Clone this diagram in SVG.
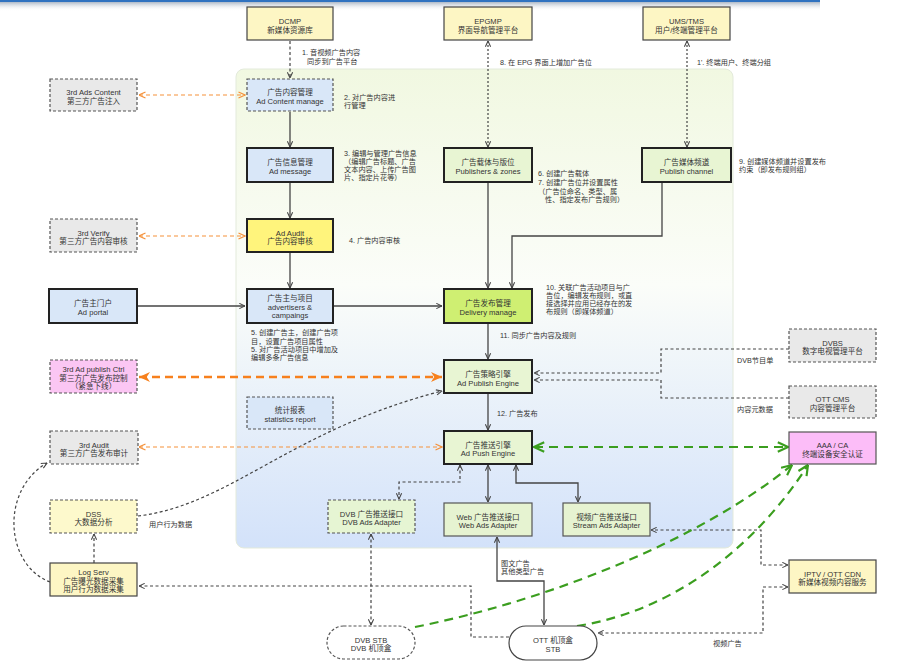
<svg xmlns="http://www.w3.org/2000/svg" width="913" height="666" viewBox="0 0 913 666">
<defs>
<linearGradient id="panelG" x1="0" y1="0" x2="0" y2="1">
<stop offset="0" stop-color="#f1f8e1"/>
<stop offset="0.45" stop-color="#fbfdf9"/>
<stop offset="1" stop-color="#d3e2fa"/>
</linearGradient>
<linearGradient id="shadowG" x1="0" y1="0" x2="0" y2="1">
<stop offset="0" stop-color="#8a9bb0" stop-opacity="0.7"/>
<stop offset="1" stop-color="#ffffff" stop-opacity="0"/>
</linearGradient>
<marker id="ak" viewBox="0 0 8 8" refX="7.5" refY="4" markerWidth="7" markerHeight="7" markerUnits="userSpaceOnUse" orient="auto-start-reverse">
<path d="M1,1 L7.5,4 L1,7" fill="none" stroke="#444" stroke-width="1.2"/>
</marker>
<marker id="ao" viewBox="0 0 8 8" refX="7.5" refY="4" markerWidth="8" markerHeight="8" markerUnits="userSpaceOnUse" orient="auto-start-reverse">
<path d="M1,1 L7.5,4 L1,7" fill="none" stroke="#f5913a" stroke-width="1.2"/>
</marker>
<marker id="ao2" viewBox="0 0 10 10" refX="10" refY="5" markerWidth="11" markerHeight="11" markerUnits="userSpaceOnUse" orient="auto-start-reverse">
<path d="M0,0.5 L10,5 L0,9.5 L3,5 z" fill="#f7801d"/>
</marker>
<marker id="ag" viewBox="0 0 10 10" refX="9.5" refY="5" markerWidth="12" markerHeight="12" markerUnits="userSpaceOnUse" orient="auto-start-reverse">
<path d="M1,1 L9.5,5 L1,9" fill="none" stroke="#3b9e1f" stroke-width="1.8"/>
</marker>
</defs>
<style>
text{font-family:"Liberation Sans","Noto Sans CJK SC",sans-serif;font-size:7.6px;fill:#333}
.n text{text-anchor:middle}
#labels text{font-size:7.2px}
.yl{fill:#fdf6c4;stroke:#444;stroke-width:1.2}
.gy{fill:#e9e9e9;stroke:#555;stroke-width:1.2;stroke-dasharray:3,2}
.bl{fill:#d9e7f8;stroke:#222;stroke-width:2}
.bld{fill:#d9e7f8;stroke:#555;stroke-width:1.2;stroke-dasharray:3,2}
.gr{fill:#e8f5d3;stroke:#222;stroke-width:2}
.grt{fill:#e6f3d1;stroke:#555;stroke-width:1.2}
.grd{fill:#e6f5d3;stroke:#555;stroke-width:1.2;stroke-dasharray:3,2}
.pk{fill:#fbc6f3;stroke:#555;stroke-width:1.2;stroke-dasharray:3,2}
.pks{fill:#fcbdf8;stroke:#555;stroke-width:1.2}
.c path{fill:none}
.s{stroke:#444;stroke-width:1.3}
.d{stroke:#444;stroke-width:1.2;stroke-dasharray:3,2.5}
.dt{stroke:#444;stroke-width:1.2;stroke-dasharray:2,2}
.o1{stroke:#f5913a;stroke-width:1.2;stroke-dasharray:4,3}
.o2{stroke:#f7801d;stroke-width:2.5;stroke-dasharray:8,5}
.g{stroke:#3b9e1f;stroke-width:2.2;stroke-dasharray:9,6}
</style>
<rect x="0" y="2" width="820" height="9" fill="url(#shadowG)"/>
<rect x="0" y="0" width="820" height="2" fill="#2f72c0"/>
<rect x="236" y="69" width="497" height="479" rx="8" fill="url(#panelG)" stroke="#e3eadb" stroke-width="1"/>

<g class="c">
<path class="d" d="M290,41 V78" marker-end="url(#ak)"/>
<path class="o1" d="M139,95 H245" marker-start="url(#ao)" marker-end="url(#ao)"/>
<path class="s" d="M290,112 V147" marker-end="url(#ak)"/>
<path class="s" d="M290,183 V218" marker-end="url(#ak)"/>
<path class="o1" d="M139,236 H245" marker-start="url(#ao)" marker-end="url(#ao)"/>
<path class="s" d="M290,253 V288" marker-end="url(#ak)"/>
<path class="s" d="M138,306 H245" marker-end="url(#ak)"/>
<path class="s" d="M334,306 H442" marker-end="url(#ak)"/>
<path class="dt" d="M488,41 V147" marker-start="url(#ak)" marker-end="url(#ak)"/>
<path class="dt" d="M687,41 V147" marker-start="url(#ak)" marker-end="url(#ak)"/>
<path class="s" d="M488,183 V288" marker-end="url(#ak)"/>
<path class="s" d="M662,183 V236 H512 V288" marker-end="url(#ak)"/>
<path class="s" d="M488,324 V359" marker-end="url(#ak)"/>
<path class="o2" d="M139,377 H442" marker-start="url(#ao2)" marker-end="url(#ao2)"/>
<path class="d" d="M789,349 H661 V373 H534" marker-end="url(#ak)"/>
<path class="d" d="M789,398 H661 V380 H534" marker-end="url(#ak)"/>
<path class="s" d="M488,394 V430" marker-end="url(#ak)"/>
<path class="d" d="M138,516 C230,505 290,430 442,391" marker-end="url(#ak)"/>
<path class="o1" d="M139,447 H442" marker-start="url(#ao)" marker-end="url(#ao)"/>
<path class="g" d="M534,447 H788" marker-start="url(#ag)" marker-end="url(#ag)"/>
<path class="d" d="M50,582 C5,565 0,490 47,463" marker-end="url(#ak)"/>
<path class="d" d="M94,563 V534" marker-end="url(#ak)"/>
<path class="s" d="M488,465 V502" marker-start="url(#ak)" marker-end="url(#ak)"/>
<path class="s" d="M516,465 V483 H578 V502" marker-start="url(#ak)" marker-end="url(#ak)"/>
<path class="d" d="M460,465 V482 H399 V499" marker-start="url(#ak)" marker-end="url(#ak)"/>
<path class="d" d="M371,534 V625" marker-start="url(#ak)" marker-end="url(#ak)"/>
<path class="d" d="M509,637 H471 V586 H139" marker-end="url(#ak)"/>
<path class="s" d="M497,537 V581 H544 V625" marker-start="url(#ak)" marker-end="url(#ak)"/>
<path class="d" d="M788,565 H761 V530 H651" marker-start="url(#ak)" marker-end="url(#ak)"/>
<path class="d" d="M788,587 H763 V633 H598" marker-start="url(#ak)" marker-end="url(#ak)"/>
<path class="g" d="M415,627 C550,600 700,540 792,465" marker-end="url(#ag)"/>
<path class="g" d="M577,626 C680,610 760,540 808,465" marker-end="url(#ag)"/>
</g>

<g class="n" id="dcmp"><rect class="yl" x="247" y="7" width="86" height="33"/><text x="290" y="24">DCMP</text><text x="290" y="32.5">新媒体资源库</text></g>
<g class="n" id="epgmp"><rect class="yl" x="444" y="7" width="88" height="33"/><text x="488" y="24">EPGMP</text><text x="488" y="32.5">界面导航管理平台</text></g>
<g class="n" id="ums"><rect class="yl" x="643" y="7" width="87" height="33"/><text x="686.5" y="24">UMS/TMS</text><text x="686.5" y="32.5">用户/终端管理平台</text></g>
<g class="n" id="ads3rd"><rect class="gy" x="50" y="79" width="87" height="32"/><text x="93.5" y="95">3rd Ads Content</text><text x="93.5" y="103.5">第三方广告注入</text></g>
<g class="n" id="adcontent"><rect class="bld" x="247" y="79" width="86" height="32"/><text x="290" y="95">广告内容管理</text><text x="290" y="103.5">Ad Content manage</text></g>
<g class="n" id="admessage"><rect class="bl" x="247" y="148" width="86" height="34"/><text x="290" y="165">广告信息管理</text><text x="290" y="173.5">Ad message</text></g>
<g class="n" id="verify3rd"><rect class="gy" x="50" y="219" width="87" height="33"/><text x="93.5" y="235.5">3rd Verify</text><text x="93.5" y="244">第三方广告内容审核</text></g>
<g class="n" id="adaudit"><rect x="247" y="219" width="86" height="33" fill="#fff47c" stroke="#222" stroke-width="2"/><text x="290" y="235.5">Ad Audit</text><text x="290" y="244">广告内容审核</text></g>
<g class="n" id="adportal"><rect class="bl" x="49" y="289" width="88" height="34"/><text x="93" y="306">广告主门户</text><text x="93" y="314.5">Ad portal</text></g>
<g class="n" id="advertisers"><rect class="bl" x="247" y="289" width="86" height="34"/><text x="290" y="300.5">广告主与项目</text><text x="290" y="309.5">advertisers &amp;</text><text x="290" y="318">campaings</text></g>
<g class="n" id="publishers"><rect class="gr" x="444" y="148" width="88" height="34"/><text x="488" y="165">广告载体与版位</text><text x="488" y="173.5">Publishers &amp; zones</text></g>
<g class="n" id="channel"><rect class="gr" x="642" y="148" width="89" height="34"/><text x="686.5" y="165">广告媒体频道</text><text x="686.5" y="173.5">Publish channel</text></g>
<g class="n" id="delivery"><rect x="444" y="289" width="88" height="34" fill="#cfef72" stroke="#222" stroke-width="2"/><text x="488" y="306">广告发布管理</text><text x="488" y="314.5">Delivery manage</text></g>
<g class="n" id="publishctrl3rd"><rect class="pk" x="50" y="360" width="87" height="33"/><text x="93.5" y="372">3rd Ad publish Ctrl</text><text x="93.5" y="380.5">第三方广告发布控制</text><text x="93.5" y="389">（紧急下线）</text></g>
<g class="n" id="publishengine"><rect class="gr" x="444" y="360" width="88" height="33"/><text x="488" y="377">广告策略引擎</text><text x="488" y="385.5">Ad Publish Engine</text></g>
<g class="n" id="dvbs"><rect class="gy" x="789" y="329" width="87" height="33"/><text x="832.5" y="345.5">DVBS</text><text x="832.5" y="354">数字电视管理平台</text></g>
<g class="n" id="ottcms"><rect class="gy" x="789" y="386" width="87" height="32"/><text x="832.5" y="402">OTT CMS</text><text x="832.5" y="410.5">内容管理平台</text></g>
<g class="n" id="stats"><rect class="bld" x="247" y="397" width="86" height="32"/><text x="290" y="413">统计报表</text><text x="290" y="421.5">statistics report</text></g>
<g class="n" id="audit3rd"><rect class="gy" x="50" y="431" width="88" height="33"/><text x="94" y="447.5">3rd Audit</text><text x="94" y="456">第三方广告发布审计</text></g>
<g class="n" id="pushengine"><rect class="gr" x="444" y="431" width="88" height="33"/><text x="488" y="447.5">广告推送引擎</text><text x="488" y="456">Ad Push Engine</text></g>
<g class="n" id="aaaca"><rect class="pks" x="789" y="432" width="87" height="32"/><text x="832.5" y="448">AAA / CA</text><text x="832.5" y="456.5">终端设备安全认证</text></g>
<g class="n" id="dss"><rect x="50" y="500" width="87" height="33" fill="#fdf9cc" stroke="#555" stroke-width="1.2" stroke-dasharray="3,2"/><text x="93.5" y="516.5">DSS</text><text x="93.5" y="525">大数据分析</text></g>
<g class="n" id="dvbadapter"><rect class="grd" x="328" y="500" width="87" height="33"/><text x="371.5" y="516.5">DVB 广告推送接口</text><text x="371.5" y="525">DVB Ads Adapter</text></g>
<g class="n" id="webadapter"><rect class="grt" x="444" y="503" width="88" height="33"/><text x="488" y="519.5">Web 广告推送接口</text><text x="488" y="528">Web Ads Adapter</text></g>
<g class="n" id="streamadapter"><rect class="grt" x="563" y="503" width="87" height="33"/><text x="606.5" y="519.5">视频广告推送接口</text><text x="606.5" y="528">Stream Ads  Adapter</text></g>
<g class="n" id="logserv"><rect class="yl" x="50" y="563" width="87" height="33"/><text x="93.5" y="575">Log Serv</text><text x="93.5" y="583.5">广告曝光数据采集</text><text x="93.5" y="592">用户行为数据采集</text></g>
<g class="n" id="iptvcdn"><rect class="yl" x="789" y="560" width="87" height="33"/><text x="832.5" y="576.5">IPTV / OTT CDN</text><text x="832.5" y="585">新媒体视频内容服务</text></g>
<g class="n" id="dvbstb"><rect x="327" y="626" width="88" height="33" rx="16.5" fill="#fff" stroke="#555" stroke-width="1.2" stroke-dasharray="3,2"/><text x="371" y="642.5">DVB STB</text><text x="371" y="651">DVB 机顶盒</text></g>
<g class="n" id="ottstb"><rect x="509" y="626" width="88" height="34" rx="17" fill="#fff" stroke="#444" stroke-width="1.2"/><text x="553" y="643">OTT 机顶盒</text><text x="553" y="651.5">STB</text></g>

<g id="labels">
<text x="302" y="55">1. 音视频广告内容</text><text x="307" y="63.5">同步到广告平台</text>
<text x="344" y="100">2. 对广告内容进</text><text x="344" y="108">行管理</text>
<text x="344" y="156">3. 编辑与管理广告信息</text><text x="344" y="164">（编辑广告标题、广告</text><text x="344" y="172">文本内容、上传广告图</text><text x="344" y="180">片、指定片花等）</text>
<text x="349" y="243">4. 广告内容审核</text>
<text x="251" y="335">5. 创建广告主，创建广告项</text><text x="251" y="343.5">目，设置广告项目属性</text><text x="251" y="351.5">5. 对广告活动项目中增加及</text><text x="251" y="360">编辑多条广告信息</text>
<text x="538" y="176">6. 创建广告载体</text><text x="538" y="185">7. 创建广告位并设置属性</text><text x="538" y="193.5">（广告位命名、类型、属</text><text x="545" y="201.5">性、指定发布广告规则）</text>
<text x="500" y="65">8. 在 EPG 界面上增加广告位</text>
<text x="697" y="65">1'.  终端用户、终端分组</text>
<text x="739" y="163.5">9. 创建媒体频道并设置发布</text><text x="739" y="172">约束（即发布规则组）</text>
<text x="546" y="289.5">10.  关联广告活动项目与广</text><text x="546" y="297.5">告位，编辑发布规则，或直</text><text x="546" y="305.5">接选择并应用已经存在的发</text><text x="546" y="313.5">布规则（即媒体频道）</text>
<text x="500" y="338">11. 同步广告内容及规则</text>
<text x="737" y="363">DVB节目单</text>
<text x="737" y="412">内容元数据</text>
<text x="497" y="415.5">12. 广告发布</text>
<text x="149" y="527">用户行为数据</text>
<text x="501" y="565.5">图文广告</text><text x="501" y="573.5">其他类型广告</text>
<text x="713" y="646">视频广告</text>
</g>
</svg>
